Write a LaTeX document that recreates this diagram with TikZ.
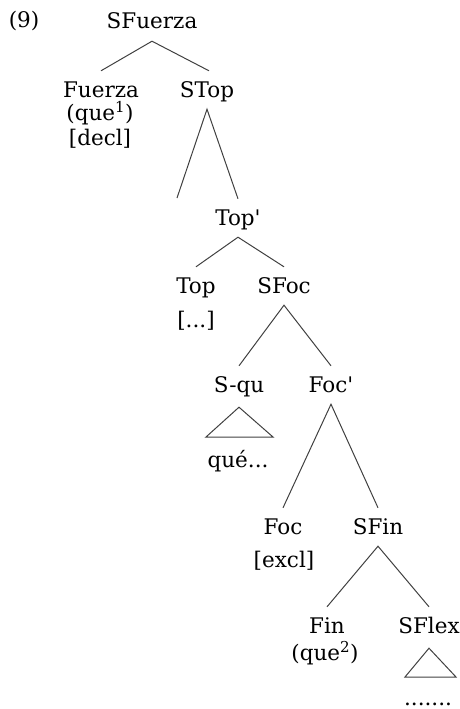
\documentclass[tikz,border=0pt]{standalone}
\usepackage{fontspec}
\setmainfont{DejaVu Serif}[Ligatures=TeXOff]
\usetikzlibrary{calc}
\tikzset{
  lbl/.style={anchor=base, inner xsep=1pt, inner ysep=7pt, text height=19pt, text depth=5pt, font=\fontsize{21.5}{25}\selectfont},
  sub/.style={anchor=base, inner sep=1pt, font=\fontsize{21.5}{25}\selectfont},
  br/.style={draw=black!75, line width=1pt},
}
\begin{document}
\begin{tikzpicture}[x=1pt,y=-1pt]
\useasboundingbox (0,0) rectangle (460,709);
% labels
\node[sub] (ex) at (24,28) {(9)};
\node[lbl] (sfuerza) at (152,29) {SFuerza};
\node[lbl] (fuerza) at (101,97) {Fuerza};
\node[sub] (que1) at (100,120) {(que\textsuperscript{1})};
\node[sub] (decl) at (100,145) {[decl]};
\node[lbl] (stop) at (207,97) {STop};
\coordinate (topspec) at (177,198);
\node[lbl] (topbar) at (238,225) {Top'};
\node[lbl] (top) at (196,293) {Top};
\node[sub] (topdots) at (196,327) {[...]};
\node[lbl] (sfoc) at (284,293) {SFoc};
\node[lbl] (squ) at (239,392) {S-qu};
\node[sub] (que) at (238,467) {qué...};
\node[lbl] (focbar) at (331,392) {Foc'};
\node[lbl] (foc) at (283,534) {Foc};
\node[sub] (excl) at (284,567) {[excl]};
\node[lbl] (sfin) at (378,534) {SFin};
\node[lbl] (fin) at (327,633) {Fin};
\node[sub] (que2) at (325,660) {(que\textsuperscript{2})};
\node[lbl] (sflex) at (429,633) {SFlex};
\node[sub] (dots) at (428,705) {.......};
% branches
\draw[br] (fuerza.north) -- (sfuerza.south) -- ($(stop.north)+(2,0)$);
\draw[br] (topspec) -- (stop.south) -- (topbar.north);
\draw[br] (top.north) -- (topbar.south) -- (sfoc.north);
\draw[br] (squ.north) -- (sfoc.south) -- (focbar.north);
\draw[br] (foc.north) -- (focbar.south) -- (sfin.north);
\draw[br] (fin.north) -- (sfin.south) -- (sflex.north);
% triangles
\draw[br] ($(squ.south)+(0,3)$) -- ($(que.base)+(-32,-30)$) -- ($(que.base)+(35,-30)$) -- cycle;
\draw[br] ($(sflex.south)+(0,3)$) -- ($(dots.base)+(-23,-28)$) -- ($(dots.base)+(28,-28)$) -- cycle;
\end{tikzpicture}
\end{document}
